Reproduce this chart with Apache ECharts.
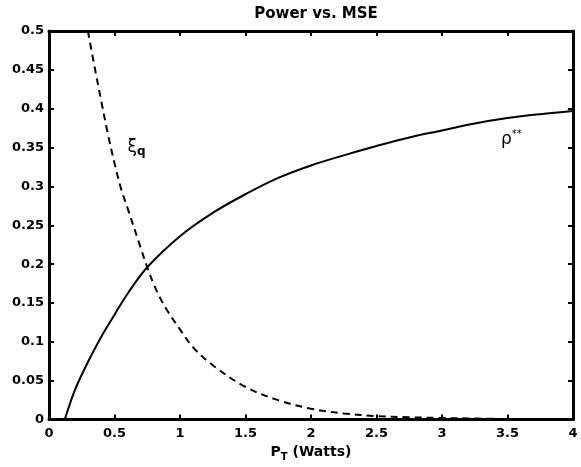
<!DOCTYPE html>
<html>
<head>
<meta charset="utf-8">
<script src="https://cdn.jsdelivr.net/npm/echarts@6/dist/echarts.min.js"></script>
<style>html,body{margin:0;padding:0;background:#fff;}#c{width:581px;height:467px;}</style>
</head>
<body>
<div id="c"></div>
<script>
// Data
var rhoX = [0.12, 0.2, 0.3, 0.4, 0.5, 0.6, 0.75, 1.0, 1.25, 1.5, 1.75, 2.0, 2.25, 2.5, 2.75, 3.0, 3.25, 3.5, 3.75, 4.0];
var rhoY = [0.0, 0.039, 0.075, 0.107, 0.135, 0.162, 0.196, 0.236, 0.266, 0.290, 0.311, 0.327, 0.340, 0.352, 0.363, 0.372, 0.381, 0.388, 0.393, 0.397];
var xiX = [0.297, 0.35, 0.4, 0.45, 0.5, 0.55, 0.6, 0.7, 0.75, 0.8, 0.85, 0.9, 1.0, 1.1, 1.25, 1.5, 1.75, 2.0, 2.25, 2.5, 2.75, 3.0, 3.2, 3.4];
var xiY = [0.5, 0.452, 0.409, 0.367, 0.33, 0.297, 0.272, 0.221, 0.196, 0.174, 0.156, 0.141, 0.116, 0.093, 0.07, 0.042, 0.025, 0.014, 0.008, 0.0045, 0.003, 0.002, 0.0015, 0.001];
var xTicks = {min: 0, max: 4, interval: 0.5};
var yTicks = {min: 0, max: 0.5, interval: 0.05};
var titleText = 'Power vs. MSE';
var xiLabelPos = [0.668, 0.35];
var rhoLabelPos = [3.53, 0.36];

function pairs(xs, ys) { return xs.map(function (x, i) { return [x, ys[i]]; }); }

var FONT = 'DejaVu Sans';
var axisLineStyle = {color: '#000', width: 3};
var tickStyle = {show: true, inside: true, length: 5, lineStyle: {color: '#000', width: 2}};

function xAx(pos, showLabel) {
  return {
    type: 'value', position: pos, min: xTicks.min, max: xTicks.max, interval: xTicks.interval,
    axisLine: {show: true, onZero: false, lineStyle: axisLineStyle},
    axisTick: tickStyle, splitLine: {show: false},
    axisLabel: {show: showLabel, color: '#000', fontFamily: FONT, fontWeight: 'bold', fontSize: 13, margin: 8},
    name: showLabel ? '{b|P}{s|T}{b| (Watts)}' : '',
    nameLocation: 'middle', nameGap: 19,
    nameTextStyle: {rich: {
      b: {fontFamily: FONT, fontWeight: 'bold', fontSize: 14, color: '#000'},
      s: {fontFamily: FONT, fontWeight: 'bold', fontSize: 10, color: '#000', padding: [9, 0, 0, 0]}
    }}
  };
}
function yAx(pos, showLabel) {
  return {
    type: 'value', position: pos, min: yTicks.min, max: yTicks.max, interval: yTicks.interval,
    axisLine: {show: true, onZero: false, lineStyle: axisLineStyle},
    axisTick: tickStyle, splitLine: {show: false},
    axisLabel: {show: showLabel, color: '#000', fontFamily: FONT, fontWeight: 'bold', fontSize: 13, margin: 5}
  };
}

var chart = echarts.init(document.getElementById('c'), null, {renderer: 'canvas'});
chart.setOption({
  animation: false,
  backgroundColor: '#fff',
  title: {text: titleText, left: 311, textAlign: 'center', top: 2,
    textStyle: {fontFamily: FONT, fontWeight: 'bold', fontSize: 15, color: '#000'}},
  grid: {left: 49, right: 8, top: 31, bottom: 38, containLabel: false},
  xAxis: [xAx('bottom', true), xAx('top', false)],
  yAxis: [yAx('left', true), yAx('right', false)],
  series: [
    {
      type: 'line', xAxisIndex: 0, yAxisIndex: 0, data: pairs(rhoX, rhoY),
      showSymbol: false, smooth: 0.35,
      lineStyle: {color: '#000', width: 2, type: 'solid'},
      markPoint: {symbol: 'circle', symbolSize: 0, data: [{coord: rhoLabelPos, value: ''}],
        label: {show: true, position: 'inside', formatter: '{r|ρ}{s|**}',
          rich: {r: {fontFamily: FONT, fontSize: 17, color: '#000'},
                 s: {fontFamily: FONT, fontSize: 10, color: '#000', padding: [0, 0, 11, 0]}}}}
    },
    {
      type: 'line', xAxisIndex: 0, yAxisIndex: 0, data: pairs(xiX, xiY),
      showSymbol: false, smooth: 0.35,
      lineStyle: {color: '#000', width: 2, type: [7, 5]},
      markPoint: {symbol: 'circle', symbolSize: 0, data: [{coord: xiLabelPos, value: ''}],
        label: {show: true, position: 'inside', formatter: '{g|ξ}{q|q}',
          rich: {g: {fontFamily: FONT, fontSize: 17, color: '#000'},
                 q: {fontFamily: FONT, fontWeight: 'bold', fontSize: 12, color: '#000', padding: [9, 0, 0, 0]}}}}
    }
  ]
});
</script>
</body>
</html>
